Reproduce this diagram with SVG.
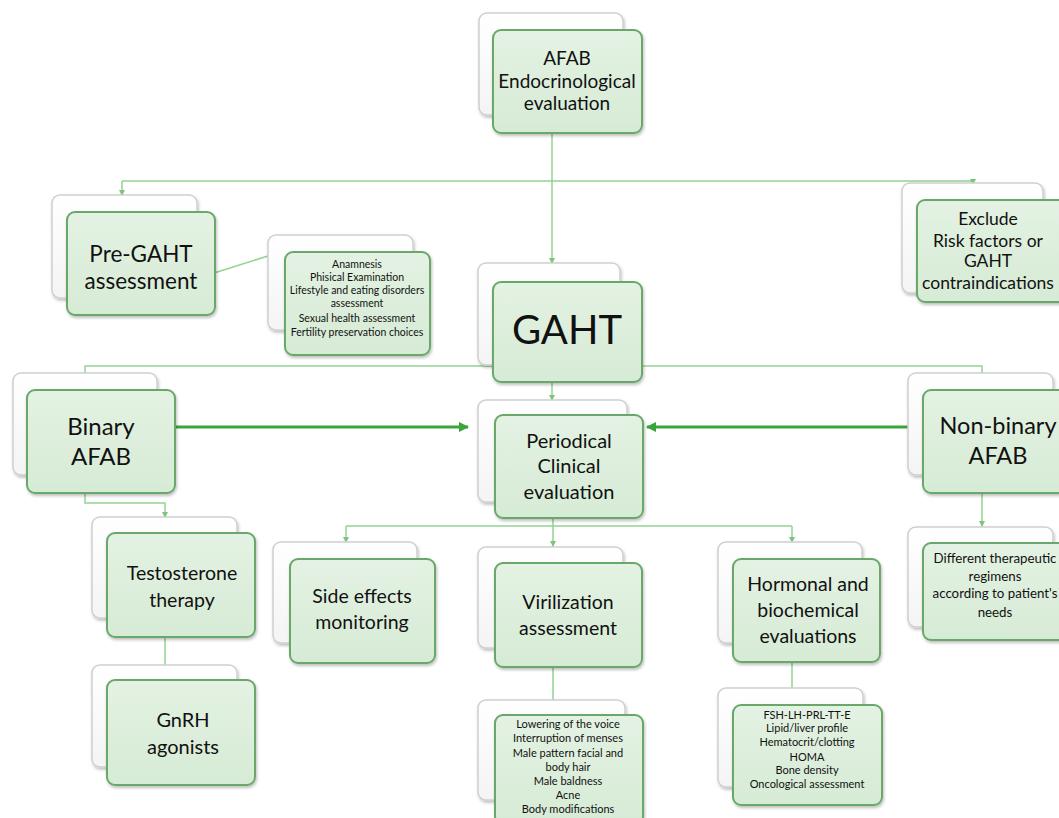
<svg xmlns="http://www.w3.org/2000/svg" width="1059" height="818" viewBox="0 0 1059 818">
<defs>
<linearGradient id="g" x1="0" y1="0" x2="0" y2="1">
<stop offset="0" stop-color="#e4f2e3"/>
<stop offset="1" stop-color="#d6ebd5"/>
</linearGradient>
<linearGradient id="gb" x1="0" y1="0" x2="0" y2="1">
<stop offset="0" stop-color="#ffffff"/>
<stop offset="1" stop-color="#f4f4f4"/>
</linearGradient>
<filter id="sh" x="-10%" y="-10%" width="130%" height="130%">
<feDropShadow dx="1" dy="2" stdDeviation="1.5" flood-color="#000" flood-opacity="0.25"/>
</filter>
<marker id="ah" viewBox="0 0 6 6" refX="5" refY="3" markerWidth="4" markerHeight="4" orient="auto">
<path d="M0,0 L6,3 L0,6 z" fill="#7cc67c"/>
</marker>
<marker id="ahb" viewBox="0 0 10 10" refX="9" refY="5" markerWidth="3.5" markerHeight="3.5" orient="auto">
<path d="M0,0 L10,5 L0,10 z" fill="#3aa53a"/>
</marker>
</defs>
<style>
.back{fill:url(#gb);stroke:#cfcfcf;stroke-width:1.5;filter:url(#sh)}
.front{fill:url(#g);stroke:#6aa86a;stroke-width:2;filter:url(#sh)}
.conn{fill:none;stroke:#92d392;stroke-width:1.5}
.thick{fill:none;stroke:#3aa53a;stroke-width:3}
text{font-family:Lato,"Open Sans","Liberation Sans",sans-serif;fill:#111;text-anchor:middle}
</style>
<rect width="1059" height="818" fill="#ffffff"/>

<g id="connectors">
<path class="conn" d="M552,133 V263" marker-end="url(#ah)"/>
<path class="conn" d="M122,181 H973"/>
<path class="conn" d="M122,181 V195" marker-end="url(#ah)"/>
<path class="conn" d="M973,181 V184" marker-end="url(#ah)"/>
<path class="conn" d="M214,273 L268,256"/>
<path class="conn" d="M85,373 V366 H982 V373"/>
<path class="conn" d="M552,382 V400" marker-end="url(#ah)"/>
<path class="thick" d="M176,427 H468" marker-end="url(#ahb)"/>
<path class="thick" d="M908,427 H647" marker-end="url(#ahb)"/>
<path class="conn" d="M85,493 V503 H165 V517" marker-end="url(#ah)"/>
<path class="conn" d="M165,637 V665"/>
<path class="conn" d="M982,493 V526" marker-end="url(#ah)"/>
<path class="conn" d="M346,526 H792"/>
<path class="conn" d="M346,526 V542" marker-end="url(#ah)"/>
<path class="conn" d="M792,526 V542" marker-end="url(#ah)"/>
<path class="conn" d="M553,518 V546" marker-end="url(#ah)"/>
<path class="conn" d="M553,667 V700"/>
<path class="conn" d="M792,662 V688"/>
</g>

<g id="n-top">
<rect class="back" x="479" y="13" width="144" height="102" rx="8"/>
<rect class="front" x="493" y="30" width="149" height="103" rx="8"/>
<text font-size="19"><tspan x="567" y="65">AFAB</tspan><tspan x="567" y="88">Endocrinological</tspan><tspan x="567" y="110">evaluation</tspan></text>
</g>

<g id="n-pregaht">
<rect class="back" x="52" y="195" width="145" height="103" rx="8"/>
<rect class="front" x="67" y="212" width="148" height="103" rx="8"/>
<text font-size="22.5"><tspan x="141" y="262">Pre-GAHT</tspan><tspan x="141" y="289">assessment</tspan></text>
</g>

<g id="n-anamnesis">
<rect class="back" x="268" y="235" width="145" height="95" rx="8"/>
<rect class="front" x="285" y="252" width="145" height="103" rx="8"/>
<text font-size="10.5"><tspan x="357" y="268">Anamnesis</tspan><tspan x="357" y="281">Phisical Examination</tspan><tspan x="357" y="294">Lifestyle and eating disorders</tspan><tspan x="357" y="307">assessment</tspan><tspan x="357" y="322">Sexual health assessment</tspan><tspan x="357" y="336">Fertility preservation choices</tspan></text>
</g>

<g id="n-exclude">
<rect class="back" x="902" y="183" width="141" height="110" rx="8"/>
<rect class="front" x="917" y="200" width="150" height="102" rx="8"/>
<text font-size="17.5"><tspan x="988" y="225">Exclude</tspan><tspan x="988" y="247">Risk factors or</tspan><tspan x="988" y="267">GAHT</tspan><tspan x="988" y="289">contraindications</tspan></text>
</g>

<g id="n-gaht">
<rect class="back" x="478" y="263" width="142" height="102" rx="8"/>
<rect class="front" x="493" y="282" width="149" height="100" rx="8"/>
<text font-size="40"><tspan x="567" y="344">GAHT</tspan></text>
</g>

<g id="n-binary">
<rect class="back" x="13" y="373" width="144" height="102" rx="8"/>
<rect class="front" x="27" y="390" width="148" height="103" rx="8"/>
<text font-size="24"><tspan x="101" y="435">Binary</tspan><tspan x="101" y="465">AFAB</tspan></text>
</g>

<g id="n-periodical">
<rect class="back" x="478" y="400" width="149" height="102" rx="8"/>
<rect class="front" x="495" y="415" width="148" height="103" rx="8"/>
<text font-size="20"><tspan x="569" y="448">Periodical</tspan><tspan x="569" y="473">Clinical</tspan><tspan x="569" y="499">evaluation</tspan></text>
</g>

<g id="n-nonbinary">
<rect class="back" x="908" y="373" width="145" height="102" rx="8"/>
<rect class="front" x="923" y="390" width="150" height="103" rx="8"/>
<text font-size="23.5"><tspan x="998" y="434">Non-binary</tspan><tspan x="998" y="464">AFAB</tspan></text>
</g>

<g id="n-different">
<rect class="back" x="908" y="527" width="145" height="100" rx="8"/>
<rect class="front" x="923" y="543" width="150" height="97" rx="8"/>
<text font-size="13.3"><tspan x="995" y="563">Different therapeutic</tspan><tspan x="995" y="581">regimens</tspan><tspan x="995" y="598">according to patient's</tspan><tspan x="995" y="617">needs</tspan></text>
</g>

<g id="n-testosterone">
<rect class="back" x="92" y="517" width="145" height="101" rx="8"/>
<rect class="front" x="107" y="533" width="148" height="104" rx="8"/>
<text font-size="19.5"><tspan x="182" y="580">Testosterone</tspan><tspan x="182" y="607">therapy</tspan></text>
</g>

<g id="n-gnrh">
<rect class="back" x="92" y="665" width="145" height="102" rx="8"/>
<rect class="front" x="107" y="680" width="148" height="105" rx="8"/>
<text font-size="20"><tspan x="183" y="727">GnRH</tspan><tspan x="183" y="754">agonists</tspan></text>
</g>

<g id="n-side">
<rect class="back" x="273" y="542" width="144" height="101" rx="8"/>
<rect class="front" x="290" y="559" width="145" height="104" rx="8"/>
<text font-size="19.5"><tspan x="362" y="603">Side effects</tspan><tspan x="362" y="629">monitoring</tspan></text>
</g>

<g id="n-virilization">
<rect class="back" x="478" y="547" width="145" height="101" rx="8"/>
<rect class="front" x="495" y="563" width="147" height="104" rx="8"/>
<text font-size="19.5"><tspan x="568" y="609">Virilization</tspan><tspan x="568" y="635">assessment</tspan></text>
</g>

<g id="n-hormonal">
<rect class="back" x="718" y="542" width="144" height="101" rx="8"/>
<rect class="front" x="733" y="559" width="147" height="103" rx="8"/>
<text font-size="19.5"><tspan x="808" y="591">Hormonal and</tspan><tspan x="808" y="617">biochemical</tspan><tspan x="808" y="643">evaluations</tspan></text>
</g>

<g id="n-viril-list">
<rect class="back" x="478" y="700" width="147" height="100" rx="8"/>
<rect class="front" x="495" y="715" width="148" height="110" rx="8"/>
<text font-size="11"><tspan x="568" y="728">Lowering of the voice</tspan><tspan x="568" y="742">Interruption of menses</tspan><tspan x="568" y="757">Male pattern facial and</tspan><tspan x="568" y="771">body hair</tspan><tspan x="568" y="785">Male baldness</tspan><tspan x="568" y="799">Acne</tspan><tspan x="568" y="813">Body modifications</tspan></text>
</g>

<g id="n-hormonal-list">
<rect class="back" x="718" y="688" width="145" height="99" rx="8"/>
<rect class="front" x="733" y="705" width="149" height="100" rx="8"/>
<text font-size="11"><tspan x="807" y="719">FSH-LH-PRL-TT-E</tspan><tspan x="807" y="732">Lipid/liver profile</tspan><tspan x="807" y="746">Hematocrit/clotting</tspan><tspan x="807" y="761">HOMA</tspan><tspan x="807" y="774">Bone density</tspan><tspan x="807" y="788">Oncological assessment</tspan></text>
</g>
</svg>
